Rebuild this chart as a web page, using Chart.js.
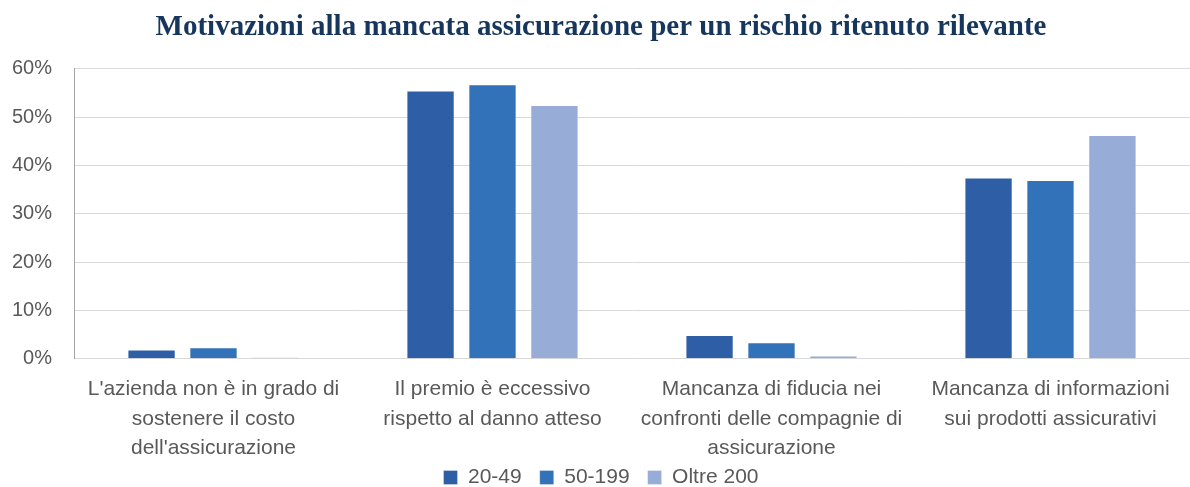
<!DOCTYPE html>
<html lang="it">
<head>
<meta charset="utf-8">
<title>Motivazioni alla mancata assicurazione</title>
<script src="https://cdn.jsdelivr.net/npm/chart.js@4/dist/chart.umd.min.js"></script>
<style>
  html, body { margin: 0; padding: 0; background: #ffffff; }
  #wrap { width: 1190px; height: 487px; }
</style>
</head>
<body>
<div id="wrap"><canvas id="chart" width="1190" height="487"></canvas></div>
<script>
// categories (multi-line labels) and the three size classes
const categories = [
  ["L'azienda non è in grado di", 'sostenere il costo', "dell'assicurazione"],
  ['Il premio è eccessivo', 'rispetto al danno atteso'],
  ['Mancanza di fiducia nei', 'confronti delle compagnie di', 'assicurazione'],
  ['Mancanza di informazioni', 'sui prodotti assicurativi']
];
const seriesNames = ['20-49', '50-199', 'Oltre 200'];
const values2049 = [1.9, 55.5, 4.9, 37.5];
const values50199 = [2.4, 56.8, 3.4, 37.0];
const valuesOltre200 = [0.3, 52.5, 0.7, 46.3];
const yTicks = [0, 10, 20, 30, 40, 50, 60];

const colors = ['#2E5FA6', '#3272B9', '#97ACD6'];
const sans = "'Liberation Sans', Arial, sans-serif";

const datasets = [values2049, values50199, valuesOltre200].map((data, i) => ({
  label: seriesNames[i],
  data,
  backgroundColor: colors[i],
  borderColor: 'rgba(255,255,255,0.3)',
  borderWidth: 1,
  categoryPercentage: 0.666,
  barPercentage: 0.78
}));

// pull the legend up so it sits right under the wrapped category labels
const LEGEND_LIFT = 22;
const liftLegend = {
  id: 'liftLegend',
  afterLayout(chart) {
    const legend = chart.legend;
    if (!legend) return;
    legend.top -= LEGEND_LIFT;
    legend.bottom -= LEGEND_LIFT;
  }
};

new Chart(document.getElementById('chart'), {
  type: 'bar',
  data: { labels: categories, datasets },
  plugins: [liftLegend],
  options: {
    responsive: false,
    animation: false,
    layout: { padding: { left: 12, right: 0, top: 0, bottom: -33 } },
    plugins: {
      title: {
        display: true,
        text: 'Motivazioni alla mancata assicurazione per un rischio ritenuto rilevante',
        color: '#17365D',
        font: { family: "'Liberation Serif', 'Times New Roman', serif", size: 29, weight: 'bold' },
        padding: { top: 10, bottom: 24 }
      },
      legend: {
        position: 'bottom',
        labels: {
          color: '#595959',
          font: { family: sans, size: 21 },
          boxWidth: 14,
          boxHeight: 14,
          padding: 18
        }
      },
      tooltip: { enabled: false }
    },
    scales: {
      x: {
        grid: { display: false },
        border: { color: '#D9D9D9', width: 1 },
        ticks: {
          color: '#595959',
          font: { family: sans, size: 21, lineHeight: 1.4 },
          maxRotation: 0,
          autoSkip: false,
          padding: 8
        },
        afterFit: axis => {
          axis.paddingLeft = 0;
          axis.paddingRight = 0;
        }
      },
      y: {
        min: 0,
        max: 60,
        afterBuildTicks: axis => { axis.ticks = yTicks.map(v => ({ value: v })); },
        grid: { color: '#D9D9D9', lineWidth: 1, drawTicks: false },
        border: { color: '#A6A6A6', width: 1 },
        ticks: {
          color: '#595959',
          font: { family: sans, size: 20 },
          padding: 22,
          callback: v => v + '%'
        },
        afterFit: axis => { axis.width = 62; }
      }
    }
  }
});
</script>
</body>
</html>
